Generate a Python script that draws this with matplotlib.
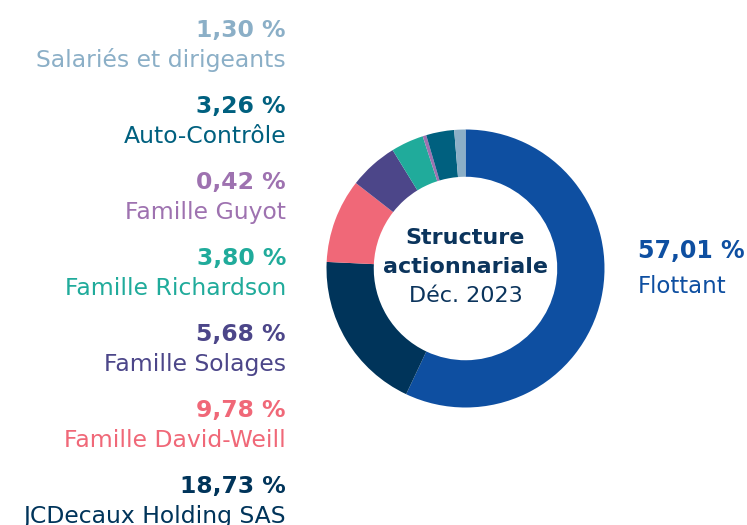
import numpy as np
import matplotlib
matplotlib.use("Agg")
import matplotlib.pyplot as plt

###############################################################################
# data (clockwise from 12 o'clock)
###############################################################################
names   = ['Flottant', 'JCDecaux Holding SAS', 'Famille David-Weill', 'Famille Solages',
           'Famille Richardson', 'Famille Guyot', 'Auto-Contrôle', 'Salariés et dirigeants']
shares  = [57.01, 18.73, 9.78, 5.68, 3.80, 0.42, 3.26, 1.30]
colours = ['#0E4FA1', '#00345A', '#F06878', '#4C4689',
           '#20AB9B', '#9E72B0', '#00607F', '#8BAFC7']

centre_lines = ['Structure', 'actionnariale', 'Déc. 2023']

###############################################################################
W, H = 747, 525
plt.rcParams['font.family'] = ['DejaVu Sans']

fig = plt.figure(figsize=(W/100, H/100), dpi=100)
fig.patch.set_facecolor('white')

def fx(x): return x / W
def fy(y): return 1 - y / H

# donut axes: centre (465.5, 268.5) px, radius 139 px
cx, cy, R = 465.5, 268.5, 139
ax = fig.add_axes([fx(cx - R), fy(cy + R), 2*R/W, 2*R/H])
ax.pie(shares, colors=colours, startangle=90, counterclock=False, radius=1,
       wedgeprops=dict(width=0.34, linewidth=0))
ax.set_xlim(-1, 1)
ax.set_ylim(-1, 1)
ax.set_aspect('equal')
ax.axis('off')

def pct(v):
    return ('%.2f' % v).replace('.', ',') + ' %'

# left column labels (from top): Salariés ... JCDecaux
left = list(range(len(names) - 1, 0, -1))
for k, i in enumerate(left):
    yb = 37 + 76 * k
    fig.text(fx(286), fy(yb), pct(shares[i]), ha='right', va='baseline',
             fontsize=16.9, fontweight='bold', color=colours[i])
    fig.text(fx(286), fy(yb + 30), names[i], ha='right', va='baseline',
             fontsize=16.9, color=colours[i])

# Flottant on the right
fig.text(fx(638), fy(258), pct(shares[0]), ha='left', va='baseline',
         fontsize=17, fontweight='bold', color=colours[0])
fig.text(fx(638), fy(293), names[0], ha='left', va='baseline',
         fontsize=16.5, color=colours[0])

# centre text
fig.text(fx(cx), fy(244), centre_lines[0], ha='center', va='baseline',
         fontsize=16, fontweight='bold', color='#0B345C')
fig.text(fx(cx), fy(273), centre_lines[1], ha='center', va='baseline',
         fontsize=16, fontweight='bold', color='#0B345C')
fig.text(fx(cx), fy(302), centre_lines[2], ha='center', va='baseline',
         fontsize=16, color='#0B345C')

fig.savefig('out.png', dpi=100, facecolor='white')
